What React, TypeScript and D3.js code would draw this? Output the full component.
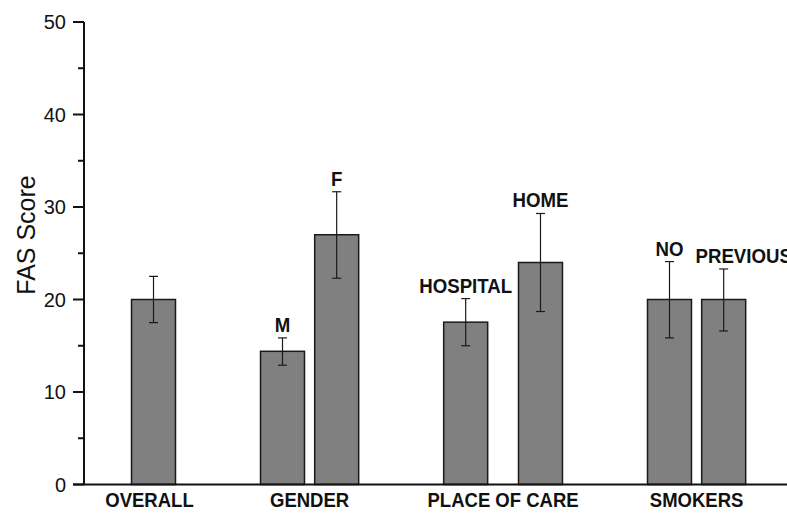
import React from "react";
import * as d3 from "d3";

const barLabels = ["", "M", "F", "HOSPITAL", "HOME", "NO", "PREVIOUS"];
const barX = [1, 2, 2.42, 3.42, 4, 5, 5.42];
const barValues = [20, 14.4, 27, 17.55, 24, 20, 20];
const errLow = [17.5, 12.9, 22.3, 15.0, 18.7, 15.85, 16.6];
const errHigh = [22.5, 15.85, 31.65, 20.1, 29.3, 24.1, 23.3];
const groupNames = ["OVERALL", "GENDER", "PLACE OF CARE", "SMOKERS"];
const groupMembers = [[0], [1, 2], [3, 4], [5, 6]];
const yTicks = [0, 10, 20, 30, 40, 50];
const yMinorTicks = [5, 15, 25, 35, 45];

const W = 787;
const H = 513;
const FONT = "'Liberation Sans', Arial, Helvetica, sans-serif";

export default function App() {
  const y = d3.scaleLinear().domain([0, 50]).range([484.5, 22]);
  const x = d3.scaleLinear().domain([0.4612, 5.9109]).range([84, 787]);
  const bw = x(1.341) - x(1);
  const labelDx: Record<number, number> = { 6: 20 };

  return (
    <svg
      width={W}
      height={H}
      style={{ position: "absolute", left: 0, top: 0, background: "#fff" }}
      fontFamily={FONT}
    >
      {/* bars */}
      {barValues.map((v, i) => (
        <rect
          key={"b" + i}
          x={x(barX[i]) - bw / 2}
          y={y(v)}
          width={bw}
          height={y(0) - y(v)}
          fill="#808080"
          stroke="#1a1a1a"
          strokeWidth={1.5}
        />
      ))}
      {/* error bars */}
      {barValues.map((v, i) => {
        const cx = x(barX[i]);
        return (
          <g key={"e" + i} stroke="#1a1a1a" strokeWidth={1.2}>
            <line x1={cx} x2={cx} y1={y(errLow[i])} y2={y(errHigh[i])} />
            <line x1={cx - 4.5} x2={cx + 4.5} y1={y(errLow[i])} y2={y(errLow[i])} />
            <line x1={cx - 4.5} x2={cx + 4.5} y1={y(errHigh[i])} y2={y(errHigh[i])} />
          </g>
        );
      })}
      {/* bar labels */}
      {barLabels.map((l, i) =>
        l ? (
          <text
            key={"l" + i}
            transform={`translate(${x(barX[i]) + (labelDx[i] || 0)},${y(errHigh[i]) - 6}) scale(0.91,1)`}
            textAnchor="middle"
            fontWeight="bold"
            fontSize={20.5}
            fill="#111"
          >
            {l}
          </text>
        ) : null
      )}
      {/* axes */}
      <line x1={84} x2={84} y1={y(50)} y2={y(0)} stroke="#111" strokeWidth={2} />
      <line x1={73} x2={W} y1={y(0)} y2={y(0)} stroke="#111" strokeWidth={2} />
      {yTicks.map((t) => (
        <g key={"t" + t}>
          <line x1={73} x2={84} y1={y(t)} y2={y(t)} stroke="#111" strokeWidth={2} />
          <text
            x={66}
            y={y(t)}
            dy="0.36em"
            textAnchor="end"
            fontSize={20}
            fill="#111"
          >
            {t}
          </text>
        </g>
      ))}
      {yMinorTicks.map((t) => (
        <line key={"m" + t} x1={78} x2={84} y1={y(t)} y2={y(t)} stroke="#111" strokeWidth={2} />
      ))}
      {/* group labels */}
      {groupNames.map((g, i) => {
        const xs = groupMembers[i].map((j) => barX[j]);
        const cx = x(d3.mean(xs) as number) - (i === 0 ? 4 : 0);
        return (
          <text
            key={"g" + i}
            transform={`translate(${cx},507) scale(0.95,1)`}
            textAnchor="middle"
            fontWeight="bold"
            fontSize={19.5}
            fill="#111"
          >
            {g}
          </text>
        );
      })}
      {/* y title */}
      <text
        transform={`translate(35,${235}) rotate(-90)`}
        textAnchor="middle"
        fontSize={25}
        fill="#111"
      >
        FAS Score
      </text>
    </svg>
  );
}
